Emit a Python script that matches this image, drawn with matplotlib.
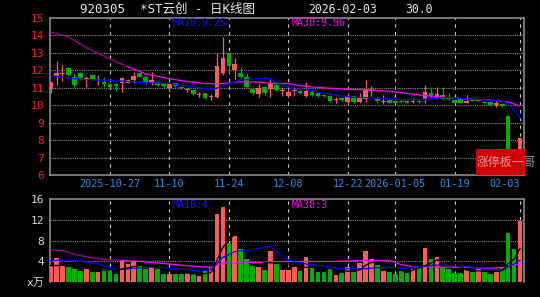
import numpy as np
import matplotlib
matplotlib.use('Agg')
import matplotlib.pyplot as plt
from matplotlib.patches import Rectangle

plt.rcParams['font.family'] = ['DejaVu Sans Mono', 'Noto Sans CJK SC']

# daily candles, 2025-10-13 .. 2026-02-03 (80 trading days)
opens = [10.91, 11.68, 11.77, 12.15, 11.64, 11.83, 11.45, 11.73, 11.45, 11.35,
         11.22, 11.20, 11.29, 11.30, 11.45, 11.83, 11.60, 11.30, 11.35, 11.25,
         11.00, 11.25, 11.05, 10.88, 10.87, 10.58, 10.68, 10.45, 10.49, 11.87,
         12.97, 12.02, 11.83, 11.64, 10.91, 10.64, 11.02, 10.91, 11.16, 10.80,
         10.55, 10.80, 10.80, 10.55, 10.78, 10.68, 10.60, 10.53, 10.30, 10.40,
         10.20, 10.53, 10.20, 10.35, 10.82, 10.34, 10.18, 10.30, 10.26, 10.25,
         10.25, 10.20, 10.27, 10.34, 10.72, 10.39, 10.58, 10.45, 10.30, 10.34,
         10.15, 10.34, 10.26, 10.20, 10.20, 10.02, 10.06, 9.40, 7.20, 6.50]
closes = [11.31, 11.87, 11.87, 11.73, 11.16, 11.54, 11.54, 11.48, 11.50, 11.22,
          11.02, 11.12, 11.54, 11.42, 11.70, 11.64, 11.25, 11.45, 11.16, 11.12,
          11.20, 11.12, 10.98, 10.92, 10.64, 10.65, 10.40, 10.50, 12.25, 12.69,
          12.25, 12.36, 11.64, 11.02, 10.68, 10.97, 10.68, 11.29, 10.87, 10.85,
          10.78, 10.86, 10.70, 10.81, 10.60, 10.50, 10.50, 10.26, 10.35, 10.30,
          10.53, 10.20, 10.49, 10.87, 10.92, 10.22, 10.22, 10.12, 10.15, 10.18,
          10.15, 10.25, 10.17, 10.78, 10.50, 10.64, 10.34, 10.34, 10.15, 10.15,
          10.26, 10.26, 10.34, 10.15, 10.02, 10.14, 9.95, 6.95, 6.25, 8.12]
highs = [11.35, 12.53, 12.30, 12.20, 11.87, 11.92, 11.67, 11.78, 11.73, 11.60,
         11.28, 11.25, 11.64, 11.48, 11.92, 11.88, 11.65, 11.92, 11.40, 11.30,
         11.35, 11.30, 11.10, 11.00, 10.90, 10.76, 10.72, 10.62, 13.00, 13.89,
         13.00, 12.69, 12.17, 11.83, 11.02, 11.22, 11.10, 11.54, 11.20, 11.06,
         10.97, 11.06, 10.85, 11.35, 10.85, 10.72, 10.64, 10.60, 10.49, 10.45,
         10.68, 10.58, 10.70, 11.44, 11.12, 10.45, 10.58, 10.35, 10.30, 10.30,
         10.32, 10.40, 10.32, 11.16, 11.06, 11.06, 11.06, 10.68, 10.35, 10.38,
         10.58, 10.36, 10.38, 10.22, 10.22, 10.26, 10.10, 9.45, 7.30, 8.12]
lows = [10.68, 11.16, 11.40, 11.70, 11.06, 11.45, 11.02, 11.44, 11.16, 11.06,
        10.98, 10.90, 10.78, 11.25, 11.25, 11.60, 11.20, 11.16, 11.10, 11.06,
        10.78, 11.05, 10.92, 10.78, 10.60, 10.45, 10.35, 10.30, 10.40, 11.73,
        11.83, 11.50, 11.54, 10.97, 10.60, 10.49, 10.60, 10.49, 10.80, 10.50,
        10.49, 10.58, 10.65, 10.49, 10.55, 10.45, 10.45, 10.20, 10.11, 10.25,
        10.11, 10.15, 10.10, 10.20, 10.50, 10.12, 10.07, 10.10, 10.12, 10.15,
        10.10, 10.10, 10.12, 10.11, 10.40, 10.33, 10.30, 10.30, 10.12, 10.12,
        10.10, 10.24, 10.22, 10.12, 9.98, 9.92, 9.90, 6.90, 6.20, 6.40]
volumes = [3.1, 4.7, 3.1, 2.9, 2.6, 2.1, 2.6, 2.0, 2.0, 2.6,
           2.3, 1.6, 4.2, 3.5, 4.1, 3.1, 2.6, 2.8, 2.6, 1.5,
           1.6, 1.6, 1.6, 1.8, 1.5, 1.3, 2.1, 2.9, 13.1, 14.4,
           7.6, 8.9, 6.3, 4.5, 3.2, 3.0, 2.3, 6.1, 3.5, 2.3,
           2.4, 2.9, 2.1, 4.8, 3.0, 2.0, 2.0, 2.6, 1.4, 1.7,
           2.9, 2.0, 3.7, 6.0, 4.5, 3.3, 2.1, 2.0, 1.6, 2.1,
           1.8, 2.6, 2.8, 6.6, 4.5, 4.9, 3.0, 2.6, 1.8, 1.8,
           2.4, 2.0, 2.6, 2.0, 1.5, 2.0, 3.0, 9.5, 6.3, 11.7]

# moving average lines (day index, value)
ma10_idx = [0, 3, 6, 10, 13, 16, 20, 23, 26, 28, 30, 32, 34, 36, 37, 39, 41, 43, 45,
            48, 51, 54, 58, 61, 64, 67, 70, 73, 76, 77, 78, 79]
ma10_val = [11.72, 11.55, 11.47, 11.43, 11.36, 11.30, 11.25, 11.10, 10.95, 10.98, 11.24,
            11.45, 11.49, 11.57, 11.50, 11.16, 10.92, 10.90, 10.75, 10.58, 10.45, 10.42,
            10.35, 10.30, 10.38, 10.44, 10.36, 10.30, 10.26, 10.05, 9.72, 9.25]
ma30_idx = [0, 3, 6, 10, 13, 16, 20, 23, 26, 28, 30, 32, 35, 37, 40, 42, 45, 48, 51,
            54, 57, 60, 63, 66, 69, 72, 75, 77, 78, 79]
ma30_val = [14.20, 13.92, 13.30, 12.65, 12.20, 11.80, 11.52, 11.36, 11.25, 11.22, 11.28,
            11.35, 11.32, 11.25, 11.24, 11.12, 11.02, 10.95, 10.90, 10.87, 10.80, 10.68,
            10.55, 10.47, 10.38, 10.32, 10.27, 10.18, 10.07, 9.96]

vma5_idx = [0, 4, 8, 12, 16, 20, 24, 26, 27, 28, 29, 30, 31, 32, 33, 34, 36, 38, 40,
            43, 46, 50, 52, 53, 54, 56, 58, 60, 63, 64, 65, 67, 70, 74, 76, 77, 78, 79]
vma5_val = [3.2, 3.28, 2.26, 2.54, 3.5, 2.22, 1.62, 1.66, 1.92, 4.18, 6.76, 8.02, 9.38,
            10.06, 8.34, 6.1, 3.86, 3.62, 3.32, 2.9, 2.78, 2.12, 2.34, 3.26, 3.82, 3.92,
            2.7, 1.92, 3.18, 3.66, 4.28, 4.32, 2.32, 2.1, 2.22, 3.6, 4.46, 6.5]
vma10_idx = [0, 4, 8, 11, 14, 17, 20, 23, 25, 27, 28, 29, 31, 34, 37, 38, 39, 40, 43,
             46, 49, 53, 56, 59, 62, 65, 68, 71, 74, 76, 77, 78, 79]
vma10_val = [4.2, 4.2, 3.5, 2.4, 2.7, 2.9, 2.7, 2.4, 2.1, 2.5, 3.6, 4.8, 5.9, 6.3, 6.9,
             6.0, 4.8, 4.3, 3.5, 3.1, 2.6, 2.6, 2.9, 2.7, 3.0, 3.3, 3.2, 2.9, 2.4, 2.4,
             3.0, 3.5, 4.2]
vma30_idx = [0, 2, 4, 6, 9, 12, 15, 19, 23, 26, 27, 28, 29, 31, 35, 37, 42, 48, 53,
             57, 58, 59, 61, 65, 70, 73, 76, 77, 78, 79]
vma30_val = [6.2, 6.1, 5.4, 4.9, 4.4, 4.2, 4.0, 3.6, 3.2, 2.9, 2.9, 3.3, 3.7, 3.7, 3.8,
             4.0, 4.0, 4.0, 4.2, 4.2, 3.8, 3.4, 3.0, 2.9, 2.9, 2.7, 2.8, 3.1, 3.3, 3.5]

date_pos = [10, 20, 30, 40, 50, 58, 68, 79]
date_labels = ['2025-10-27', '11-10', '11-24', '12-08', '12-22', '2026-01-05', '01-19', '02-03']

RED = '#ff5a5a'
GREEN = '#00b000'
GRID = '#8a8a8a'

fig = plt.figure(figsize=(5.4, 2.97), dpi=100, facecolor='black')
ax1 = fig.add_axes([0.0926, 0.4108, 0.8778, 0.5286], facecolor='black')
ax2 = fig.add_axes([0.0926, 0.0495, 0.8778, 0.2805], facecolor='black')

x = np.arange(len(opens))
o = np.array(opens)
c = np.array(closes)
up = c >= o
colors = [RED if u else GREEN for u in up]

# candles
ax1.vlines(x, lows, highs, colors=colors, linewidth=0.9, zorder=3)
body_h = np.maximum(np.abs(c - o), 0.03)
ax1.bar(x, body_h, bottom=np.minimum(o, c), width=0.78, color=colors, linewidth=0, zorder=4)

ax1.plot(ma30_idx[:5], ma30_val[:5], color='#a000a0', lw=0.9, zorder=5)
ax1.plot(ma30_idx[4:], ma30_val[4:], color='#ff00ff', lw=0.9, zorder=5)
ax1.plot(ma10_idx, ma10_val, color='#0000ff', lw=0.9, zorder=5)

# volume
ax2.bar(x, volumes, width=0.78, color=colors, linewidth=0, zorder=3)
ax2.plot(vma30_idx[:6], vma30_val[:6], color='#a000a0', lw=0.9, zorder=5)
ax2.plot(vma30_idx[5:], vma30_val[5:], color='#ff00ff', lw=0.9, zorder=5)
ax2.plot(vma10_idx, vma10_val, color='#0000ff', lw=0.9, zorder=5)
ax2.plot(vma5_idx, vma5_val, color='black', lw=0.9, zorder=5)

for ax in (ax1, ax2):
    ax.set_xlim(-0.1, 79.67)
    for p in date_pos:
        ax.axvline(p, color='#c8c8c8', lw=0.8, linestyle=(0, (3, 4)), zorder=1)
    for s in ax.spines.values():
        s.set_color(GRID)
        s.set_linewidth(1.2)
    ax.set_xticks([])
    ax.tick_params(axis='y', length=0, pad=4, labelsize=8)

ax1.set_ylim(6, 15)
ax1.set_yticks(range(6, 16))
ax1.tick_params(axis='y', labelcolor='#ff1a1a')
for v in range(7, 15):
    ax1.axhline(v, color=GRID, lw=0.8, linestyle=(0, (1, 1)), zorder=1)

ax2.set_ylim(0, 16)
ax2.set_yticks([0, 4, 8, 12, 16])
ax2.set_yticklabels(['x万', '4', '8', '12', '16'])
ax2.tick_params(axis='y', labelcolor='#d8d8d8')
ax2.spines['bottom'].set_visible(False)
for v in (4, 8, 12):
    ax2.axhline(v, color=GRID, lw=0.8, linestyle=(0, (1, 1)), zorder=1)

# date labels under price panel
for p, lab in zip(date_pos, date_labels):
    ha = 'right' if p == date_pos[-1] else 'center'
    ax1.text(p, -0.057, lab, transform=ax1.get_xaxis_transform(), ha=ha, va='center',
             color='#2a8ee8', fontsize=7.3)

# header
fig.text(80 / 540, 0.968, '920305  *ST云创 - 日K线图', color='#e8e8e8', fontsize=9, va='center')
fig.text(308 / 540, 0.968, '2026-02-03', color='#e8e8e8', fontsize=8.3, va='center')
fig.text(405 / 540, 0.968, '30.0', color='#e8e8e8', fontsize=8.3, va='center')
fig.text(173 / 540, 0.921, 'MA10:9.25', color='#1010ff', fontsize=7.2, va='center')
fig.text(292 / 540, 0.921, 'MA30:9.96', color='#ff00ff', fontsize=7.2, va='center')
fig.text(173 / 540, 0.311, 'MA10:4', color='#1010ff', fontsize=7.2, va='center')
fig.text(292 / 540, 0.311, 'MA30:3', color='#ff00ff', fontsize=7.2, va='center')

# watermark
fig.add_artist(Rectangle((476 / 540, 0.4108), 49 / 540, 26 / 297, transform=fig.transFigure,
                         facecolor='#d00000', edgecolor='none', zorder=10))
fig.text(477 / 540, 0.4545, '涨停板一哥', color='white', alpha=0.6, fontsize=8.6,
         va='center', family=['Noto Sans CJK SC'], zorder=11)

fig.savefig('out.png', dpi=100, facecolor='black')
